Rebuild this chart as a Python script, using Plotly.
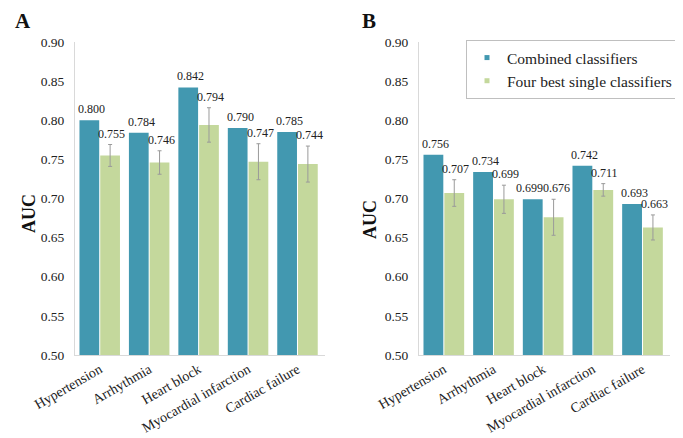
import plotly.graph_objects as go

categories = ["Hypertension", "Arrhythmia", "Heart block", "Myocardial infarction", "Cardiac failure"]

a_combined = [0.800, 0.784, 0.842, 0.790, 0.785]
a_single = [0.755, 0.746, 0.794, 0.747, 0.744]
a_single_err = [0.014, 0.015, 0.022, 0.023, 0.023]

b_combined = [0.756, 0.734, 0.699, 0.742, 0.693]
b_single = [0.707, 0.699, 0.676, 0.711, 0.663]
b_single_err = [0.017, 0.018, 0.023, 0.008, 0.016]

series_names = ["Combined classifiers", "Four best single classifiers"]
y_ticks = [0.50, 0.55, 0.60, 0.65, 0.70, 0.75, 0.80, 0.85, 0.90]

BLUE = "#4298B0"
GREEN = "#C4D89C"
FONT = "Liberation Serif, Times New Roman, serif"

# The page body has an 8px margin; lay out in page pixels and convert.
W, H = 675, 430
OFF = 8


def px(x):
    return (x - OFF) / W


def py(y):
    return 1 - (y - OFF) / H


fig = go.Figure()

panels = [
    ("x", "y", a_combined, a_single, a_single_err),
    ("x2", "y2", b_combined, b_single, b_single_err),
]

annotations = []
for xa, ya, comb, single, err in panels:
    fig.add_trace(go.Bar(x=categories, y=comb, marker_color=BLUE, marker_line_width=0,
                         xaxis=xa, yaxis=ya, showlegend=False, name=series_names[0]))
    fig.add_trace(go.Bar(x=categories, y=single, marker_color=GREEN, marker_line_width=0,
                         xaxis=xa, yaxis=ya, showlegend=False, name=series_names[1],
                         error_y=dict(type="data", array=err, color="#9a9a9a",
                                      thickness=1, width=2)))
    for c, vb, vg, e in zip(categories, comb, single, err):
        crowded = abs((vg + e) - vb) < 0.01
        annotations.append(dict(x=c, y=vb, xref=xa, yref=ya, text=f"{vb:.3f}", showarrow=False,
                                xshift=-14 if crowded else -8, yshift=2, yanchor="bottom",
                                font=dict(family=FONT, size=12, color="#222")))
        annotations.append(dict(x=c, y=vg + e, xref=xa, yref=ya, text=f"{vg:.3f}", showarrow=False,
                                xshift=13 if crowded else 12, yshift=2, yanchor="bottom",
                                font=dict(family=FONT, size=12, color="#222")))

# legend entries
fig.add_trace(go.Scatter(x=[None], y=[None], mode="markers", name=series_names[0],
                         marker=dict(symbol="square", size=5, color=BLUE), xaxis="x2", yaxis="y2"))
fig.add_trace(go.Scatter(x=[None], y=[None], mode="markers", name=series_names[1],
                         marker=dict(symbol="square", size=5, color=GREEN), xaxis="x2", yaxis="y2"))

# panel letters and axis titles
annotations += [
    dict(x=px(23), y=1, xref="paper", yref="paper", text="<b>A</b>", showarrow=False,
         xanchor="center", yanchor="top", borderpad=0, font=dict(family=FONT, size=21, color="#111")),
    dict(x=px(369), y=1, xref="paper", yref="paper", text="<b>B</b>", showarrow=False,
         xanchor="center", yanchor="top", borderpad=0, font=dict(family=FONT, size=21, color="#111")),
    dict(x=px(29), y=py(214), xref="paper", yref="paper", text="<b>AUC</b>", showarrow=False,
         xanchor="center", yanchor="middle", textangle=-90,
         font=dict(family=FONT, size=18, color="#111")),
    dict(x=px(370), y=py(220), xref="paper", yref="paper", text="<b>AUC</b>", showarrow=False,
         xanchor="center", yanchor="middle", textangle=-90,
         font=dict(family=FONT, size=18, color="#111")),
]

yaxis_common = dict(range=[0.5, 0.9], tickvals=y_ticks, ticktext=[f"{t:.2f}" for t in y_ticks],
                    showgrid=False, zeroline=False, showline=True, linecolor="#d9d9d9", linewidth=1,
                    ticks="", ticklabelstandoff=7, automargin=False,
                    tickfont=dict(family=FONT, size=13.5, color="#222"),
                    domain=[py(355), py(42)])
xaxis_common = dict(showgrid=False, zeroline=False, showline=True, linecolor="#d9d9d9", linewidth=1,
                    ticks="", tickangle=-30, automargin=False,
                    tickfont=dict(family=FONT, size=14, color="#222"))

fig.update_layout(
    width=W, height=H, autosize=False,
    margin=dict(l=0, r=0, t=0, b=0),
    paper_bgcolor="white", plot_bgcolor="white",
    barmode="group", bargap=0.16, bargroupgap=0.05,
    font=dict(family=FONT, color="#222"),
    xaxis=dict(xaxis_common, domain=[px(75), px(325)], anchor="y"),
    yaxis=dict(yaxis_common, anchor="x"),
    xaxis2=dict(xaxis_common, domain=[px(419), px(670)], anchor="y2"),
    yaxis2=dict(yaxis_common, anchor="x2"),
    legend=dict(x=px(678), xanchor="right", y=py(40), yanchor="top",
                bgcolor="white", bordercolor="#bfbfbf", borderwidth=1,
                font=dict(family=FONT, size=15.5, color="#222"), itemwidth=30),
    annotations=annotations,
)

fig.write_html("out.html")
